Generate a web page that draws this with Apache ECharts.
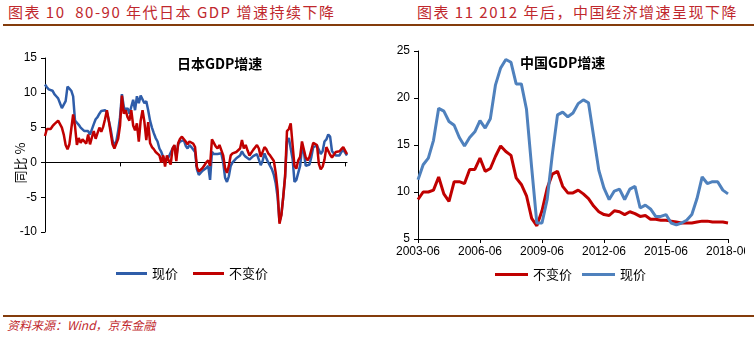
<!DOCTYPE html>
<html><head><meta charset="utf-8">
<script src="https://cdn.jsdelivr.net/npm/echarts@6/dist/echarts.min.js"></script>
<style>
html,body{margin:0;padding:0;background:#fff;}
#page{position:relative;width:754px;height:337px;overflow:hidden;background:#fff;}
.ttl{position:absolute;top:3px;font-family:"Noto Sans CJK SC",sans-serif;font-size:15px;color:#C0282D;white-space:nowrap;line-height:18px;letter-spacing:1.5px;}
.rule{position:absolute;height:2px;background:#843C0C;}
#src{position:absolute;left:7px;top:317px;font-family:"Noto Sans CJK SC",sans-serif;font-size:12px;font-style:italic;color:#C0282D;white-space:nowrap;line-height:16px;}
#cl{position:absolute;left:0;top:30px;width:377px;height:255px;}
#cr{position:absolute;left:377px;top:30px;width:368px;height:255px;}
</style></head>
<body><div id="page">
<div class="ttl" id="t1" style="left:8px;">图表 10&nbsp; 80-90 年代日本 GDP 增速持续下降</div>
<div class="ttl" id="t2" style="left:417px;">图表 11 2012 年后，中国经济增速呈现下降</div>
<div class="rule" style="left:3px;top:24px;width:751px;"></div>
<div id="cl"></div>
<div id="cr"></div>
<div class="rule" style="left:3px;top:315px;width:751px;"></div>
<div id="src">资料来源：Wind，京东金融</div>
</div>
<script>
// ---- Japan (quarterly, 1977-12 .. 2018-03) ----
const jpStart = [1977, 12];
const jpNominal = [
 11.2,10.8,10.5,10.4,10.3,9.8,9.5,9.2,8.5,7.8,
 7.6,8.8,10.9,10.6,10.3,9.5,6.0,5.8,5.4,5.0,
 5.2,4.5,4.3,4.5,4.0,4.2,5.5,6.2,6.5,7.0,
 7.4,7.3,7.5,7.2,6.0,4.8,3.2,2.4,3.0,4.5,
 6.5,9.8,8.0,7.5,7.8,7.0,8.0,9.0,7.5,9.5,
 8.5,9.6,9.4,8.5,8.8,7.5,6.0,5.0,4.2,3.5,
 3.0,2.0,1.5,0.8,0.3,0.5,0.8,1.0,2.0,2.4,
 0.8,2.6,3.0,3.2,3.2,2.4,2.0,2.5,2.2,2.0,
 1.5,-1.0,-1.8,-1.8,-1.2,-1.0,-0.8,-0.5,-2.5,1.5,
 1.2,1.0,1.2,1.4,1.3,0.0,-2.2,-2.8,-2.0,-0.5,
 0.0,0.3,0.6,0.5,1.0,1.6,1.1,0.8,0.6,0.4,
 0.6,0.9,1.0,1.2,1.0,-0.4,0.2,1.3,0.6,0.0,
 -0.5,-1.0,-1.8,-3.0,-5.0,-8.5,-7.5,-5.0,-2.0,3.0,
 3.5,3.3,0.5,-2.8,-2.5,-1.5,-0.5,2.0,1.5,-0.5,
 -0.6,-0.3,0.8,2.2,2.0,2.4,1.8,1.2,1.6,3.0,
 3.3,4.0,3.7,1.6,1.3,1.0,0.8,1.0,1.5,1.8,
 1.6,1.0
];
const jpReal = [
 3.8,4.8,4.9,4.8,5.2,5.5,5.6,6.0,6.2,5.0,
 4.0,2.5,1.9,2.6,4.8,6.9,5.2,2.5,3.5,2.8,
 3.3,3.5,2.7,4.0,2.6,3.6,4.5,3.4,4.2,5.0,
 4.4,5.1,6.2,7.5,6.0,4.3,2.6,2.0,1.8,3.4,
 5.3,9.6,7.0,7.5,6.5,6.0,7.5,5.3,4.6,5.6,
 3.0,6.0,7.5,5.8,3.2,5.8,2.8,2.2,1.9,1.5,
 1.3,1.0,0.0,1.0,-0.6,1.0,0.2,-0.3,2.0,2.5,
 0.2,2.8,3.4,3.7,3.8,3.0,2.6,3.0,2.8,2.7,
 2.2,-0.7,-1.3,-1.1,-0.8,-0.4,0.0,0.3,-0.5,3.3,
 2.8,2.3,2.0,2.5,2.3,1.0,-0.8,-1.5,-0.5,1.0,
 1.3,1.4,1.5,1.5,2.0,3.2,2.0,2.5,1.7,1.0,
 1.2,1.8,2.0,2.5,2.0,0.8,0.6,2.2,1.9,1.3,
 1.0,0.6,0.2,-1.5,-4.0,-8.8,-7.6,-5.0,-2.0,4.5,
 4.8,5.6,2.5,-0.5,-0.9,0.3,0.8,3.0,2.8,0.7,
 0.3,0.8,1.8,2.8,2.9,2.5,-0.2,-1.0,-0.6,0.4,
 2.2,2.0,1.1,0.7,0.9,1.5,1.7,1.6,1.9,2.2,
 2.0,1.2
];
// ---- China (quarterly, 2003-06 .. 2018-06) ----
const cnStart = [2003, 6];
const cnReal = [
 9.2,10.0,10.0,10.2,11.6,9.8,9.0,11.1,11.1,10.9,
 12.4,12.4,13.6,12.2,12.5,13.8,14.9,14.3,13.9,11.5,
 10.8,9.6,7.2,6.4,8.0,10.4,11.9,12.2,10.6,9.9,
 9.9,10.2,9.8,9.3,8.5,7.9,7.6,7.5,8.0,7.9,
 7.6,7.9,7.7,7.4,7.5,7.1,7.1,7.0,7.0,6.9,
 6.8,6.7,6.7,6.7,6.8,6.9,6.9,6.8,6.8,6.8,
 6.7
];
const cnNominal = [
 11.3,12.9,13.6,15.5,18.9,18.6,17.5,17.1,15.8,14.9,
 15.8,16.4,17.6,16.8,17.8,21.4,23.2,24.1,23.8,21.5,
 21.5,18.8,12.6,6.7,6.7,9.2,14.0,18.2,18.5,18.0,
 18.4,19.4,19.8,19.5,15.9,12.3,10.4,9.2,10.1,10.3,
 9.2,10.3,10.6,8.3,8.6,8.2,7.4,7.4,7.6,6.7,
 6.5,6.7,7.0,7.6,9.3,11.6,10.9,11.1,11.1,10.2,
 9.8
];
const jpTicks = {min:-10, max:15, step:5};
const cnTicks = {min:5, max:25, step:5};

function quarters(start, n){
  const out=[]; let y=start[0], m=start[1];
  for(let i=0;i<n;i++){ out.push(y+'-'+(m<10?'0'+m:m)); m+=3; if(m>12){m-=12;y++;} }
  return out;
}
const jpCats = quarters(jpStart, jpReal.length);
const cnCats = quarters(cnStart, cnReal.length);

const NUMF = '"Liberation Sans", Arial, sans-serif';
const CJKF = '"Noto Sans CJK SC", sans-serif';
const RED = '#C00000', BLUE1 = '#2F5DA9', BLUE2 = '#4F81BD';

const cl = echarts.init(document.getElementById('cl'), null, {renderer:'canvas'});
cl.setOption({
  animation:false,
  grid:{left:45, top:28, width:302, height:174, containLabel:false, outerBoundsMode:'none'},
  legend:{left:111, top:232, icon:'rect', itemWidth:31, itemHeight:3, itemGap:15,
    textStyle:{fontFamily:CJKF, fontSize:13, color:'#000'}, data:['现价','不变价']},
  xAxis:{type:'category', data:jpCats, boundaryGap:false,
    axisLine:{onZero:true, lineStyle:{color:'#000', width:1}},
    axisTick:{show:true, interval:39, length:4, lineStyle:{color:'#000'}},
    axisLabel:{interval:39, margin:78, color:'#000', fontSize:12, fontFamily:NUMF},
    splitLine:{show:false}},
  yAxis:{type:'value', min:jpTicks.min, max:jpTicks.max, interval:jpTicks.step,
    axisLine:{show:true, lineStyle:{color:'#000', width:1}},
    axisTick:{show:true, length:4, lineStyle:{color:'#000'}},
    axisLabel:{margin:8, color:'#000', fontSize:12, fontFamily:NUMF},
    splitLine:{show:false}},
  graphic:[
    {type:'text', left:177, top:27, style:{text:'日本GDP增速', font:'bold 14px '+CJKF, fill:'#000'}},
    {type:'text', x:20, y:133, rotation:Math.PI/2, style:{text:'同比 %', font:'13px '+CJKF, fill:'#000', align:'center', verticalAlign:'middle'}}
  ],
  series:[
    {name:'现价', type:'line', data:jpNominal, showSymbol:false, symbol:'none',
     lineStyle:{width:2.5, color:BLUE1}, itemStyle:{color:BLUE1}},
    {name:'不变价', type:'line', data:jpReal, showSymbol:false, symbol:'none',
     lineStyle:{width:2.5, color:RED}, itemStyle:{color:RED}}
  ]
});

const cr = echarts.init(document.getElementById('cr'), null, {renderer:'canvas'});
cr.setOption({
  animation:false,
  grid:{left:41, top:21, width:310, height:188, containLabel:false, outerBoundsMode:'none'},
  legend:{left:113, top:233, icon:'rect', itemWidth:33, itemHeight:3, itemGap:10,
    textStyle:{fontFamily:CJKF, fontSize:13, color:'#000'}, data:['不变价','现价']},
  xAxis:{type:'category', data:cnCats, boundaryGap:false,
    axisLine:{lineStyle:{color:'#000', width:1}},
    axisTick:{show:true, interval:11, length:4, lineStyle:{color:'#000'}},
    axisLabel:{interval:11, margin:7, color:'#000', fontSize:12, fontFamily:NUMF},
    splitLine:{show:false}},
  yAxis:{type:'value', min:cnTicks.min, max:cnTicks.max, interval:cnTicks.step,
    axisLine:{show:true, lineStyle:{color:'#000', width:1}},
    axisTick:{show:true, length:4, lineStyle:{color:'#000'}},
    axisLabel:{margin:8, color:'#000', fontSize:12, fontFamily:NUMF},
    splitLine:{show:false}},
  graphic:[
    {type:'text', left:143, top:26, style:{text:'中国GDP增速', font:'bold 14px '+CJKF, fill:'#000'}}
  ],
  series:[
    {name:'不变价', type:'line', data:cnReal, showSymbol:false, symbol:'none',
     lineStyle:{width:3, color:RED}, itemStyle:{color:RED}},
    {name:'现价', type:'line', data:cnNominal, showSymbol:false, symbol:'none',
     lineStyle:{width:3, color:BLUE2}, itemStyle:{color:BLUE2}}
  ]
});
</script>
</body></html>
